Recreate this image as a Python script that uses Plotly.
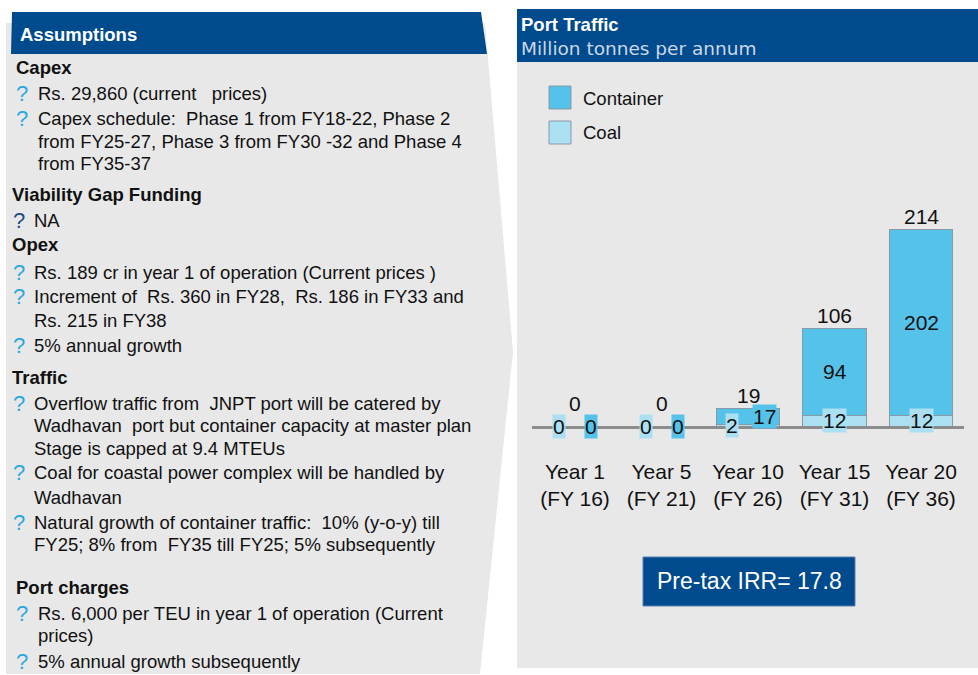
import plotly.graph_objects as go

W, H = 978, 675

# ---------------- data ----------------
categories = ["Year 1<br>(FY 16)", "Year 5<br>(FY 21)", "Year 10<br>(FY 26)",
              "Year 15<br>(FY 31)", "Year 20<br>(FY 36)"]
coal = [0, 0, 2, 12, 12]
container = [0, 0, 17, 94, 202]
totals = [0, 0, 19, 106, 214]
series_names = ["Container", "Coal"]
irr_value = 17.8

# ---------------- styles ----------------
FONT = "Arial, Liberation Sans, sans-serif"
BLUE = "#004b8d"
PANEL = "#e8e8e8"
C_CONT = "#55c2ea"
C_COAL = "#abdff2"
OUTLINE = "#8a9aa5"
TXT = "#111111"
QBLUE = "#2aa9e0"
QDARK = "#1d4f8c"
BODY = 18.5
PADX = 2  # annotation inner padding compensation


def px(x):
    return x / W


def py(y):
    return 1 - y / H


def poly(points):
    s = "M " + " L ".join(f"{px(x):.5f},{py(y):.5f}" for x, y in points) + " Z"
    return s


# chart geometry (pixels)
base_px = 426.0
scale = 0.916  # px per unit
ymax = 240
top_px = base_px - ymax * scale
x0_px, x1_px = 531.75, 964.25

fig = go.Figure()
fig.add_trace(go.Bar(
    x=categories, y=coal, name=series_names[1], marker=dict(color=C_COAL, line=dict(color=OUTLINE, width=1)),
    hoverinfo="skip", showlegend=False))
fig.add_trace(go.Bar(
    x=categories, y=container, name=series_names[0], marker=dict(color=C_CONT, line=dict(color=OUTLINE, width=1)),
    hoverinfo="skip", showlegend=False))

shapes = []
# left panel
shapes.append(dict(type="path", xref="paper", yref="paper", layer="below",
                   path=poly([(6, 23), (485, 23), (513, 352), (480, 674), (6, 674)]),
                   fillcolor=PANEL, line=dict(width=0)))
shapes.append(dict(type="path", xref="paper", yref="paper", layer="below",
                   path=poly([(12, 12), (481, 12), (487, 54), (11, 54)]),
                   fillcolor=BLUE, line=dict(width=0)))
# right panel
shapes.append(dict(type="rect", xref="paper", yref="paper", layer="below",
                   x0=px(517), x1=px(978), y0=py(668), y1=py(9),
                   fillcolor=PANEL, line=dict(width=0)))
shapes.append(dict(type="rect", xref="paper", yref="paper", layer="below",
                   x0=px(517), x1=px(978), y0=py(62), y1=py(9),
                   fillcolor=BLUE, line=dict(width=0)))
# legend swatches
for j, (nm, col) in enumerate(zip(series_names, [C_CONT, C_COAL])):
    yt = 86 + j * 35
    shapes.append(dict(type="rect", xref="paper", yref="paper",
                       x0=px(549), x1=px(571), y0=py(yt + 23), y1=py(yt),
                       fillcolor=col, line=dict(color=OUTLINE, width=1)))
# IRR box
shapes.append(dict(type="rect", xref="paper", yref="paper",
                   x0=px(643), x1=px(855), y0=py(606), y1=py(557),
                   fillcolor=BLUE, line=dict(color="#5b80b2", width=1)))

ann = []


def text(x, y, t, size=BODY, color=TXT, bold=False, family=FONT, xanchor="left"):
    if bold:
        t = f"<b>{t}</b>"
    if xanchor == "left":
        x = x - PADX
    ann.append(dict(x=px(x), y=py(y), xref="paper", yref="paper", text=t, showarrow=False,
                    xanchor=xanchor, yanchor="middle", font=dict(size=size, color=color, family=family)))


# headers
text(20, 35, "Assumptions", size=18.5, color="white", bold=True)
text(521, 24, "Port Traffic", size=18.5, color="white", bold=True)
text(521, 48, "Million tonnes per annum", size=18.5, color="#cdd7e7", family="DejaVu Sans, sans-serif")

# legend labels
for j, nm in enumerate(series_names):
    text(583, 98 + j * 35, nm, size=18.5)

# IRR
text(749, 581, f"Pre-tax IRR= {irr_value}", size=23, color="white", xanchor="center")

NB = "\u00a0"
# left panel content: headings
headings = [("Capex", 16, 67), ("Viability Gap Funding", 12, 195), ("Opex", 12, 245),
            ("Traffic", 12, 377), ("Port charges", 16, 587)]
for t, x, y in headings:
    text(x, y, t, size=BODY, bold=True)

# bullet lines: (bullet_x or None, text_x, y, text, bullet colour)
lines = [
    (22, 38, 93, f"Rs. 29,860 (current{NB}{NB} prices)", QBLUE),
    (22, 38, 119, f"Capex schedule:{NB} Phase 1 from FY18-22, Phase 2", QBLUE),
    (None, 38, 141, "from FY25-27, Phase 3 from FY30 -32 and Phase 4", None),
    (None, 38, 163, "from FY35-37", None),
    (19, 34, 221, "NA", QDARK),
    (19, 34, 272, "Rs. 189 cr in year 1 of operation (Current prices )", QBLUE),
    (19, 34, 297, f"Increment of{NB} Rs. 360 in FY28,{NB} Rs. 186 in FY33 and", QBLUE),
    (None, 34, 320, "Rs. 215 in FY38", None),
    (19, 34, 345, "5% annual growth", QBLUE),
    (19, 34, 403, f"Overflow traffic from{NB} JNPT port will be catered by", QBLUE),
    (None, 34, 425, f"Wadhavan{NB} port but container capacity at master plan", None),
    (None, 34, 448, "Stage is capped at 9.4 MTEUs", None),
    (19, 34, 472, "Coal for coastal power complex will be handled by", QBLUE),
    (None, 34, 497, "Wadhavan", None),
    (19, 34, 522, f"Natural growth of container traffic:{NB} 10% (y-o-y) till", QBLUE),
    (None, 34, 544, f"FY25; 8% from{NB} FY35 till FY25; 5% subsequently", None),
    (22, 38, 613, "Rs. 6,000 per TEU in year 1 of operation (Current", QBLUE),
    (None, 38, 635, "prices)", None),
    (22, 38, 661, "5% annual growth subsequently", QBLUE),
]
for bx, tx, y, t, bc in lines:
    if bx is not None:
        text(bx, y, "?", size=22, color=bc, xanchor="center")
    text(tx, y, t, size=BODY)

# value labels (data driven)
for i, cat in enumerate(categories):
    c, k, t = coal[i], container[i], totals[i]
    small = t < 30
    ann.append(dict(x=cat, y=c / 2, xref="x", yref="y", text=str(c), showarrow=False,
                    xshift=-16 if small else 0, bgcolor=C_COAL, borderpad=0,
                    font=dict(size=21, color=TXT, family=FONT)))
    ann.append(dict(x=cat, y=c + k / 2, xref="x", yref="y", text=str(k), showarrow=False,
                    xshift=16 if small else 0, bgcolor=C_CONT if small else None, borderpad=0,
                    font=dict(size=21, color=TXT, family=FONT)))
    ann.append(dict(x=cat, y=t, xref="x", yref="y", text=str(t), showarrow=False,
                    yshift=23 if t < 5 else 13,
                    font=dict(size=21, color=TXT, family=FONT)))

fig.update_layout(
    width=W, height=H, autosize=False,
    margin=dict(l=0, r=0, t=0, b=0),
    paper_bgcolor="white", plot_bgcolor="rgba(0,0,0,0)",
    barmode="stack", bargap=0.27,
    showlegend=False,
    shapes=shapes, annotations=ann,
    font=dict(family=FONT, color=TXT),
    xaxis=dict(domain=[px(x0_px), px(x1_px)], showline=True, linecolor="#8c8c8c", linewidth=2.5,
               showgrid=False, zeroline=False, ticks="", tickfont=dict(size=21, color=TXT, family=FONT),
               ticklabelstandoff=25, fixedrange=True),
    yaxis=dict(domain=[py(base_px), py(top_px)], range=[0, ymax], visible=False,
               showgrid=False, zeroline=False, fixedrange=True),
)

fig.write_html("out.html", config={"displayModeBar": False},
               post_script="document.body.style.margin='0';document.body.style.overflow='hidden';")
